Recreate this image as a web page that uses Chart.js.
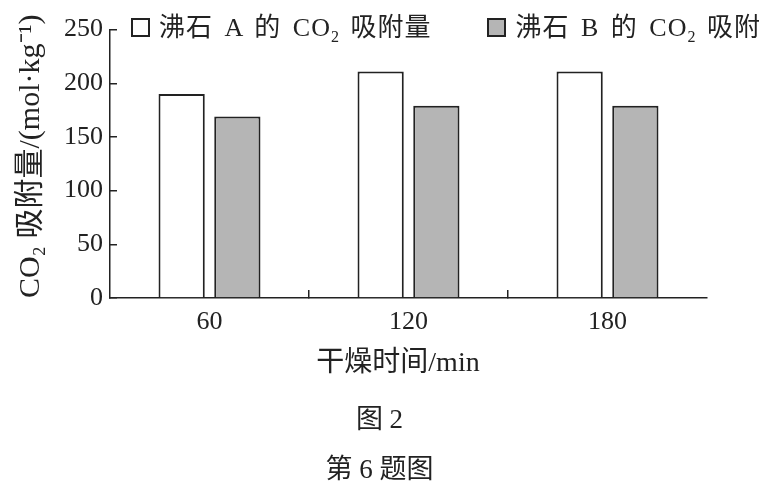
<!DOCTYPE html>
<html>
<head>
<meta charset="utf-8">
<script src="https://cdn.jsdelivr.net/npm/chart.js@4"></script>
<style>
  html, body { margin: 0; padding: 0; background: #fff; overflow: hidden; }
  #wrap { position: relative; width: 759px; height: 482px; font-family: 'Liberation Serif', 'Noto Sans CJK SC', serif; color: #222; }
  #legend { position: absolute; left: 131px; top: 10px; white-space: nowrap; font-size: 26px; letter-spacing: 1px; word-spacing: 4px; line-height: 36px; }
  #legend .item { display: inline-block; margin-right: 56px; }
  #legend i { display: inline-block; width: 15px; height: 15px; border: 2px solid #222; margin-right: 9px; vertical-align: -1px; }
  #legend sub { font-size: 16px; vertical-align: -6px; line-height: 0; letter-spacing: 0; }
  .cap { position: absolute; left: 0; width: 759px; text-align: center; font-size: 27px; line-height: 30px; }
</style>
</head>
<body>
<div id="wrap">
  <canvas id="chart"></canvas>
  <div id="legend"></div>
  <div class="cap" style="top:404px">图 2</div>
  <div class="cap" style="top:454px">第 6 题图</div>
</div>
<script>
// 干燥时间 (min)
const dryTimes = ['60', '120', '180'];
// CO2 吸附量 /(mol·kg^-1)
const zeoliteA = [190, 211, 211];
const zeoliteB = [169, 179, 179];
const seriesNames = ['沸石 A 的 CO<sub>2</sub> 吸附量', '沸石 B 的 CO<sub>2</sub> 吸附量'];
const seriesColors = ['#ffffff', '#b5b5b5'];

const serif = "'Liberation Serif', 'Noto Sans CJK SC', serif";
const ink = '#222';

// HTML legend, runs off the right edge like the scan
const legendEl = document.getElementById('legend');
seriesNames.forEach((name, i) => {
  const item = document.createElement('span');
  item.className = 'item';
  item.innerHTML = '<i style="background:' + seriesColors[i] + '"></i>' + name;
  legendEl.appendChild(item);
});

new Chart(document.getElementById('chart'), {
  type: 'bar',
  data: {
    labels: dryTimes,
    datasets: [
      { label: '沸石 A 的 CO₂ 吸附量', data: zeoliteA, backgroundColor: seriesColors[0] },
      { label: '沸石 B 的 CO₂ 吸附量', data: zeoliteB, backgroundColor: seriesColors[1] }
    ]
  },
  options: {
    responsive: true,
    maintainAspectRatio: false,
    animation: false,
    layout: { padding: { top: 29, right: 52, bottom: 86, left: 0 } },
    datasets: {
      bar: {
        borderColor: ink,
        borderWidth: 2,
        categoryPercentage: 0.56,
        barPercentage: 0.83
      }
    },
    plugins: {
      legend: { display: false },
      tooltip: { enabled: false }
    },
    scales: {
      x: {
        grid: {
          drawOnChartArea: false,
          tickLength: -8,
          lineWidth: 1.5,
          color: c => (c.index > 0 && c.index < dryTimes.length) ? ink : 'rgba(0,0,0,0)'
        },
        border: { color: ink, width: 1.5 },
        ticks: { color: ink, padding: 17, font: { family: serif, size: 26 } },
        title: {
          display: true,
          text: '干燥时间/min   ',
          color: ink,
          font: { family: serif, size: 28 },
          padding: { top: 0, bottom: 16 }
        },
        afterFit: s => { s.height = 98; }
      },
      y: {
        min: 0,
        max: 250,
        // inward ticks, like the printed figure
        grid: { drawOnChartArea: false, tickLength: -7, lineWidth: 1.5, color: ink },
        border: { color: ink, width: 1.5 },
        ticks: { stepSize: 50, color: ink, padding: 14, font: { family: serif, size: 26 } },
        title: {
          display: true,
          text: '  CO₂ 吸附量/(mol·kg⁻¹)',
          color: ink,
          font: { family: serif, size: 30 },
          padding: { top: 13, bottom: 0 }
        },
        afterFit: s => { s.width = 110; }
      }
    }
  }
});
</script>
</body>
</html>
